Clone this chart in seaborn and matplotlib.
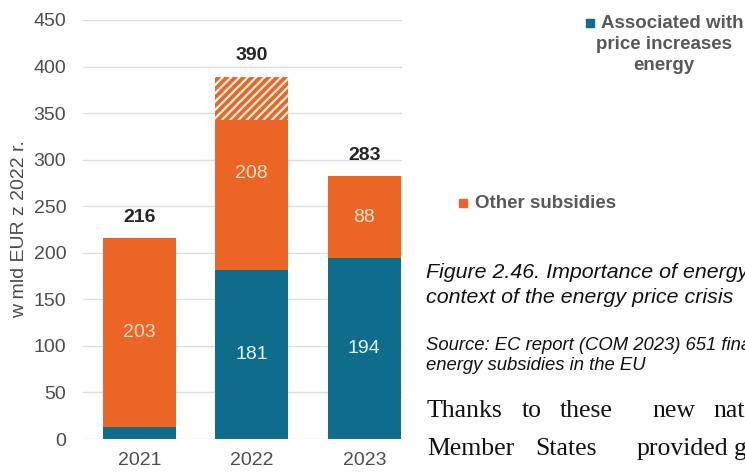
"""Energy subsidies in the EU, stacked bars with a page fragment beside it."""

import matplotlib
matplotlib.use("Agg")
import matplotlib.pyplot as plt
from matplotlib.patches import Rectangle
import pandas as pd
import seaborn as sns

# dane
years = ["2021", "2022", "2023"]
price_related = [13, 181, 194]        # Associated with price increases energy
other_subsidies = [203, 208, 88]      # Other subsidies
hatched_part = [0, 46, 0]             # top part of other subsidies, shown hatched
totals = [216, 390, 283]
y_ticks = [0, 50, 100, 150, 200, 250, 300, 350, 400, 450]

BLUE = "#0d6d8b"
ORANGE = "#eb6626"
GRID = "#dedede"
GREY = "#595959"

sns.set_style("white")
plt.rcParams["font.family"] = ["Liberation Sans", "DejaVu Sans"]
plt.rcParams["hatch.linewidth"] = 1.6

W, H = 745, 473


def fx(x):
    return x / W


def fy(y):
    return 1 - y / H


df = pd.DataFrame({
    "year": years,
    "blue": price_related,
    "other": other_subsidies,
    "hatch": hatched_part,
})
df["top"] = df["blue"] + df["other"]
df["solid"] = df["top"] - df["hatch"]
df["hatch_top"] = df["top"].where(df["hatch"] > 0, 0)

fig = plt.figure(figsize=(W / 100, H / 100), dpi=100)
ax = fig.add_axes([fx(83), fy(439), fx(402) - fx(83), fy(20) - fy(439)])

# warstwy: kreskowana góra, pomarańczowa, niebieska
sns.barplot(data=df, x="year", y="hatch_top", color=ORANGE, saturation=1,
            width=0.65, hatch="////", edgecolor="#fdf1e4", linewidth=0, ax=ax)
sns.barplot(data=df, x="year", y="solid", color=ORANGE, saturation=1,
            width=0.65, linewidth=0, ax=ax)
sns.barplot(data=df, x="year", y="blue", color=BLUE, saturation=1,
            width=0.65, linewidth=0, ax=ax)

ax.set_xlim(-0.5, 2.335)
ax.set_ylim(0, 450)
ax.set_yticks(y_ticks)
ax.grid(axis="y", color=GRID, linewidth=1)
ax.set_axisbelow(True)
for s in ax.spines.values():
    s.set_visible(False)
ax.tick_params(axis="y", length=0, pad=12, labelsize=14, labelcolor="#4d4d4d")
ax.tick_params(axis="x", length=0, pad=9, labelsize=14, labelcolor="#4d4d4d")
ax.set_xlabel("")
ax.set_ylabel("w mld EUR z 2022 r.", fontsize=14, color="#4d4d4d")
ax.yaxis.set_label_coords(-0.172, 0.5)

# etykiety wartości
for i in range(len(years)):
    b, o = price_related[i], other_subsidies[i]
    if b > 50:
        ax.text(i, b / 2, str(b), ha="center", va="center", fontsize=14,
                color="#e3f3f8")
    ax.text(i, b + o / 2, str(o), ha="center", va="center", fontsize=14,
            color="#fde3c4")
    ax.annotate(str(totals[i]), (i, b + o), xytext=(0, 15),
                textcoords="offset points", ha="center", va="center",
                fontsize=14, fontweight="bold", color="#262626")

# legenda
fig.patches.append(Rectangle((fx(586), fy(27)), fx(8), 8 / H, color=BLUE,
                             transform=fig.transFigure))
fig.text(fx(601), fy(28), "Associated with", fontsize=13.5, fontweight="bold",
         color=GREY, va="baseline")
fig.text(fx(664), fy(49), "price increases", fontsize=13.5, fontweight="bold",
         color=GREY, va="baseline", ha="center")
fig.text(fx(664), fy(70), "energy", fontsize=13.5, fontweight="bold",
         color=GREY, va="baseline", ha="center")
fig.patches.append(Rectangle((fx(459), fy(207)), fx(8), 8 / H, color=ORANGE,
                             transform=fig.transFigure))
fig.text(fx(475), fy(208), "Other subsidies", fontsize=13.5, fontweight="bold",
         color=GREY, va="baseline")

# podpis rysunku
fig.text(fx(426), fy(278), "Figure 2.46. Importance of energy subsidies in the",
         fontsize=15.4, style="italic", va="baseline", color="#111111")
fig.text(fx(426), fy(303), "context of the energy price crisis",
         fontsize=15.4, style="italic", va="baseline", color="#111111")
fig.text(fx(426), fy(350), "Source: EC report (COM 2023) 651 final on",
         fontsize=13.3, style="italic", va="baseline", color="#111111")
fig.text(fx(426), fy(370), "energy subsidies in the EU",
         fontsize=13.3, style="italic", va="baseline", color="#111111")

# tekst strony (wyjustowany)
body = [
    (417, [(427, "Thanks"), (522, "to"), (560, "these"), (652, "new"),
           (713, "national")]),
    (455, [(427, "Member"), (535, "States"), (637, "provided"), (734, "gross")]),
    (493, [(427, "sums"), (520, "in"), (550, "2022"), (623, "with"),
           (672, "an"), (706, "estimated")]),
]
for base, words in body:
    for x, w in words:
        fig.text(fx(x), fy(base), w, fontsize=18.5, va="baseline",
                 family=["Liberation Serif", "DejaVu Serif"], color="#111111")

fig.savefig("out.png", dpi=100)
